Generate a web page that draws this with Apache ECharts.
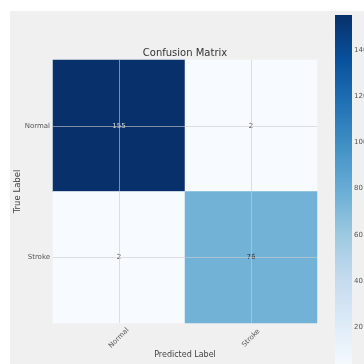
<!DOCTYPE html>
<html>
<head>
<meta charset="utf-8">
<script src="https://cdn.jsdelivr.net/npm/echarts@6/dist/echarts.min.js"></script>
<style>
html,body{margin:0;padding:0;background:#ffffff;}
#bg{position:absolute;left:10px;top:11px;width:354px;height:353px;background:#f0f0f0;}
#c{position:absolute;left:0;top:0;width:364px;height:364px;}
</style>
</head>
<body>
<div id="bg"></div>
<div id="c"></div>
<script>
const classes = ['Normal', 'Stroke'];
const matrix = [
  [155, 2],
  [2, 76]
];
const colorbarTicks = [20, 40, 60, 80, 100, 120, 140];
const blues = ['#f7fbff','#deebf7','#c6dbef','#9ecae1','#6baed6','#4292c6','#2171b5','#08519c','#08306b'];

const vmin = Math.min(...matrix.flat());
const vmax = Math.max(...matrix.flat());
const data = [];
matrix.forEach((row, i) => row.forEach((v, j) => {
  data.push({
    value: [j, i, v],
    label: { color: v > (vmin + vmax) / 2 ? '#d8d8d8' : '#333333' }
  });
}));

const font = 'DejaVu Sans';
const chart = echarts.init(document.getElementById('c'), null, {renderer: 'canvas'});
chart.setOption({
  backgroundColor: 'transparent',
  animation: false,
  textStyle: { fontFamily: font },
  title: {
    text: 'Confusion Matrix',
    left: 185, top: 48, textAlign: 'center', padding: 0,
    textStyle: { fontFamily: font, fontSize: 10, fontWeight: 'normal', color: '#333' }
  },
  grid: [
    { left: 53, top: 60, width: 264, height: 263, outerBoundsMode: 'none', containLabel: false },
    { left: 335, top: 15, width: 17, height: 354, outerBoundsMode: 'none', containLabel: false }
  ],
  xAxis: [
    {
      type: 'category', data: classes, gridIndex: 0,
      name: 'Predicted Label', nameLocation: 'middle', nameGap: 28, nameMoveOverlap: false,
      nameTextStyle: { fontFamily: font, fontSize: 8, color: '#444' },
      axisLine: { show: false }, axisTick: { show: false },
      axisLabel: { rotate: 45, fontSize: 7, color: '#555', margin: 15, align: 'center', verticalAlign: 'middle', fontFamily: font },
      splitLine: { show: false }
    },
    { type: 'value', gridIndex: 1, show: false, min: 0, max: 1 }
  ],
  yAxis: [
    {
      type: 'category', data: classes, gridIndex: 0, inverse: true,
      name: 'True Label', nameLocation: 'middle', nameGap: 31, nameMoveOverlap: false,
      nameTextStyle: { fontFamily: font, fontSize: 8.5, color: '#444' },
      axisLine: { show: false }, axisTick: { show: false },
      axisLabel: { fontSize: 7, color: '#555', margin: 3, fontFamily: font },
      splitLine: { show: false }
    },
    {
      type: 'value', gridIndex: 1, min: vmin, max: vmax, position: 'right',
      axisLine: { show: false }, axisTick: { show: false }, splitLine: { show: false },
      axisLabel: { customValues: colorbarTicks, fontSize: 7, color: '#555', margin: 2, fontFamily: font }
    }
  ],
  visualMap: {
    type: 'continuous', seriesIndex: 0, min: vmin, max: vmax,
    show: false,
    inRange: { color: blues }
  },
  series: [{
    type: 'heatmap', xAxisIndex: 0, yAxisIndex: 0,
    data: data,
    label: { show: true, fontSize: 7, fontFamily: font, formatter: p => p.value[2] },
    itemStyle: { borderWidth: 0 },
    emphasis: { disabled: true },
    markLine: {
      silent: true, symbol: 'none',
      label: { show: false },
      lineStyle: { color: '#cbcbcb', width: 1, type: 'solid', opacity: 0.6 },
      data: [
        { xAxis: classes[0] }, { xAxis: classes[1] },
        { yAxis: classes[0] }, { yAxis: classes[1] }
      ]
    }
  }]
});

// colorbar drawn through the colorbar axis scale
const pTop = chart.convertToPixel({ xAxisIndex: 1, yAxisIndex: 1 }, [0, vmax]);
const pBot = chart.convertToPixel({ xAxisIndex: 1, yAxisIndex: 1 }, [1, vmin]);
chart.setOption({
  graphic: [{
    type: 'rect', z: 1, silent: true,
    shape: { x: pTop[0], y: pTop[1], width: pBot[0] - pTop[0], height: pBot[1] - pTop[1] },
    style: {
      fill: new echarts.graphic.LinearGradient(0, 1, 0, 0,
        blues.map((c, i) => ({ offset: i / (blues.length - 1), color: c })))
    }
  }]
});
</script>
</body>
</html>
